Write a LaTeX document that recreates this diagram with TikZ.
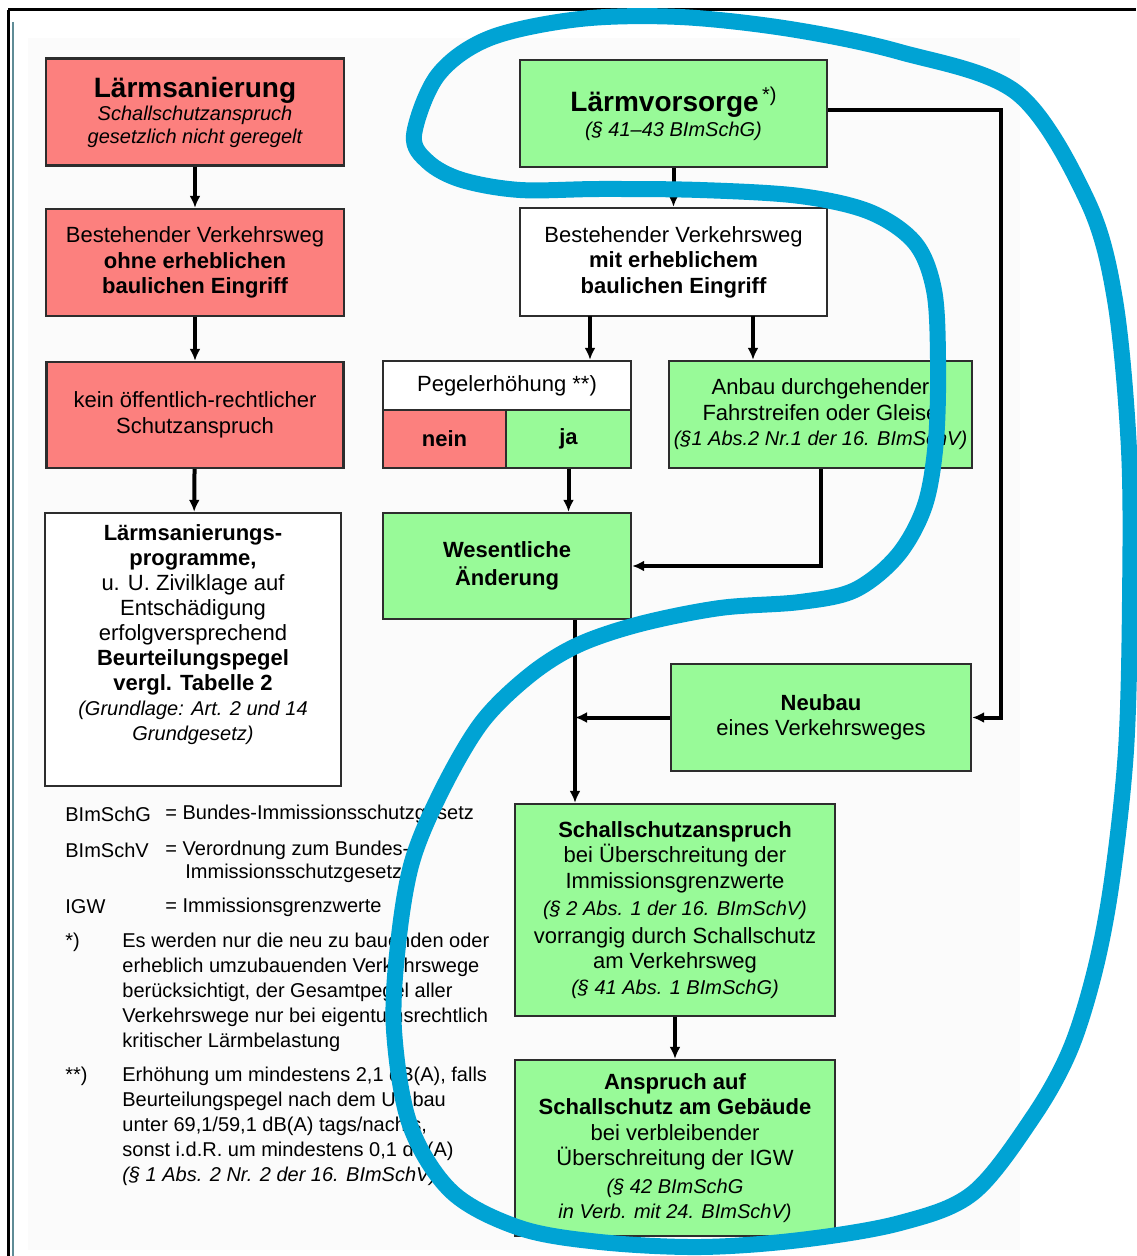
\documentclass[tikz,border=0pt]{standalone}
\usepackage{fontspec}
\setmainfont{Liberation Sans}
\usetikzlibrary{arrows.meta}

\definecolor{rot}{RGB}{252,128,126}
\definecolor{gruen}{RGB}{152,250,152}
\definecolor{rahmen}{RGB}{45,45,45}
\definecolor{stift}{RGB}{0,163,212}
\definecolor{randlinie}{RGB}{95,140,150}
\definecolor{papier}{RGB}{251,251,251}

\newcommand{\grundschrift}{\fontsize{11}{12.75}\selectfont}
\newcommand{\progschrift}{\fontsize{11}{12.5}\selectfont}
\newcommand{\kleinschrift}{\fontsize{10}{11.5}\selectfont}
\newcommand{\legendenschrift}{\fontsize{10}{12.5}\selectfont}
\newcommand{\titelschrift}{\fontsize{14}{16}\selectfont\bfseries}

\begin{document}
\begin{tikzpicture}
    [
        x=0.5pt, y=-0.5pt,
        box/.style={draw=rahmen, line width=1.2pt, inner sep=0pt, align=center, font=\grundschrift},
        rotbox/.style={box, fill=rot},
        gruenbox/.style={box, fill=gruen},
        weissbox/.style={box, fill=white},
        pfeil/.style={line width=2pt, -{Latex[length=6pt,width=5.5pt]}},
        legende/.style={anchor=west, inner sep=0pt, align=left, font=\legendenschrift}
    ]

    \useasboundingbox (0,0) rectangle (1136,1256);
    \fill[papier] (28,38) rectangle (1020,1250);
    \draw[line width=1.5pt] (8,10) -- (1136,10);
    \draw[line width=1.5pt] (8,10) -- (8,1256);
    \draw[randlinie, line width=0.6pt] (13,22) -- (13,1256);

    \node [rotbox, minimum width=149pt, minimum height=53.5pt, font=\kleinschrift] (san) at (195,112)
        {{\titelschrift Lärmsanierung}\\ \itshape Schallschutzanspruch\\ \itshape gesetzlich nicht geregelt};
    \node [rotbox, minimum width=149pt, minimum height=53.5pt] (ohne) at (195,262.5)
        {Bestehender Verkehrsweg\\ \textbf{ohne erheblichen}\\ \textbf{baulichen Eingriff}};
    \node [rotbox, minimum width=148.5pt, minimum height=53pt] (kein) at (195,415)
        {kein öffentlich-rechtlicher\\ Schutzanspruch};
    \node [weissbox, minimum width=148pt, minimum height=136.5pt] (prog) at (193,649.5) {};
    \node [align=center, inner sep=0pt, font=\progschrift] (progtext) at (193,635)
        {\textbf{Lärmsanierungs-}\\ \textbf{programme,}\\ u. U. Zivilklage auf\\ Entschädigung\\ erfolgversprechend\\
         \textbf{Beurteilungspegel}\\ \textbf{vergl. Tabelle 2}\\ {\kleinschrift\itshape (Grundlage: Art. 2 und 14}\\ {\kleinschrift\itshape Grundgesetz)}};

    \node [gruenbox, minimum width=153.5pt, minimum height=53.5pt, font=\kleinschrift] (vors) at (673.5,113.5)
        {{\titelschrift Lärmvorsorge}\,\raisebox{5pt}{\kleinschrift *)}\\[1pt] \itshape (§ 41–43 BImSchG)};
    \node [weissbox, minimum width=153.5pt, minimum height=54pt] (mit) at (673.5,262)
        {Bestehender Verkehrsweg\\ \textbf{mit erheblichem}\\ \textbf{baulichen Eingriff}};
    \node [weissbox, minimum width=124pt, minimum height=24.5pt] (pegel) at (507,385.5)
        {Pegelerhöhung **)};
    \node [rotbox, minimum width=61.5pt, minimum height=29pt] (nein) at (444.5,439) {\textbf{nein}};
    \node [gruenbox, minimum width=62.5pt, minimum height=29pt] (ja) at (568.5,439) {\textbf{ja}};
    \node [gruenbox, minimum width=151.5pt, minimum height=53.5pt] (anbau) at (820.5,414.5)
        {Anbau durchgehender\\ Fahrstreifen oder Gleise\\ {\kleinschrift\itshape (§1 Abs.2 Nr.1 der 16. BImSchV)}};
    \node [gruenbox, minimum width=124pt, minimum height=53pt] (wes) at (507,566)
        {\textbf{Wesentliche}\\[1pt] \textbf{Änderung}};
    \node [gruenbox, minimum width=150pt, minimum height=53.5pt] (neubau) at (821,717.5)
        {\textbf{Neubau}\\ eines Verkehrsweges};
    \node [gruenbox, minimum width=160pt, minimum height=106pt] (schall) at (675,910)
        {\textbf{Schallschutzanspruch}\\ bei Überschreitung der\\ Immissionsgrenzwerte\\[1pt]
         {\kleinschrift\itshape (§ 2 Abs. 1 der 16. BImSchV)}\\[1pt] vorrangig durch Schallschutz\\ am Verkehrsweg\\
         {\kleinschrift\itshape (§ 41 Abs. 1 BImSchG)}};
    \node [gruenbox, minimum width=160pt, minimum height=88pt] (ansp) at (675,1148)
        {\textbf{Anspruch auf}\\ \textbf{Schallschutz am Gebäude}\\ bei verbleibender\\ Überschreitung der IGW\\[1pt]
         {\kleinschrift\itshape (§ 42 BImSchG}\\ {\kleinschrift\itshape in Verb. mit 24. BImSchV)}};

    \coordinate (m1) at (590,316);
    \coordinate (m2) at (753,316);
    \coordinate (sammel) at (575,0);

    \draw [pfeil] (san) -- (ohne);
    \draw [pfeil] (ohne) -- (kein);
    \draw [pfeil] (kein) -- (prog);
    \draw [pfeil] (vors) -- (mit);
    \draw [pfeil] (m1) -- (m1 |- pegel.north);
    \draw [pfeil] (m2) -- (m2 |- anbau.north);
    \draw [pfeil] (ja.south) -- (ja.south |- wes.north);
    \draw [pfeil] (anbau.south) |- (wes.east);
    \draw [pfeil] ([yshift=1.5pt]vors.east) -| ([xshift=14.5pt]neubau.east) -- (neubau.east);
    \draw [pfeil] (wes.south -| sammel) -- (schall.north -| sammel);
    \draw [pfeil] (neubau.west) -- (neubau.west -| sammel);
    \draw [pfeil] (schall) -- (ansp);

    \node [legende] (abk1) at (65,814) {BImSchG};
    \node [legende] (abk1t) at (165,814) {= Bundes-Immissionsschutzgesetz};
    \node [legende] (abk2) at (65,850) {BImSchV};
    \node [legende] (abk2t) at (165,850) {= Verordnung zum Bundes-};
    \node [legende] (abk2u) at (185,873) {Immissionsschutzgesetz};
    \node [legende] (abk3) at (65,907) {IGW};
    \node [legende] (abk3t) at (165,907) {= Immissionsgrenzwerte};
    \node [legende] (fn1) at (65,942) {*)};
    \node [legende] (fn1t) at (122,992)
        {Es werden nur die neu zu bauenden oder\\ erheblich umzubauenden Verkehrswege\\ berücksichtigt, der Gesamtpegel aller\\
         Verkehrswege nur bei eigentumsrechtlich\\ kritischer Lärmbelastung};
    \node [legende] (fn2) at (65,1076) {**)};
    \node [legende] (fn2t) at (122,1126)
        {Erhöhung um mindestens 2,1 dB(A), falls\\ Beurteilungspegel nach dem Umbau\\ unter 69,1/59,1 dB(A) tags/nachts,\\
         sonst i.d.R. um mindestens 0,1 dB(A)\\ {\itshape (§ 1 Abs. 2 Nr. 2 der 16. BImSchV)}};

    \draw [stift, line width=8pt, line cap=round, line join=round] plot [smooth cycle, tension=0.55] coordinates {
        (414,135) (438,75) (490,38) (580,19) (680,17) (790,29) (900,52) (1017,93) (1087,200) (1115,300)
        (1129,450) (1130,600) (1126,750) (1112,880) (1095,970) (1070,1050) (1033,1117) (973,1193) (900,1223)
        (800,1240) (700,1247) (600,1242) (520,1228) (452,1192) (410,1125) (394,1030) (398,945) (412,862)
        (442,790) (482,722) (530,675) (578,645) (640,624) (720,608) (800,602) (855,590) (898,555)
        (925,505) (936,440) (938,360) (934,290) (915,243) (870,212) (800,196) (700,190) (600,189) (520,190)
        (462,180) (428,162)
    };
\end{tikzpicture}
\end{document}
